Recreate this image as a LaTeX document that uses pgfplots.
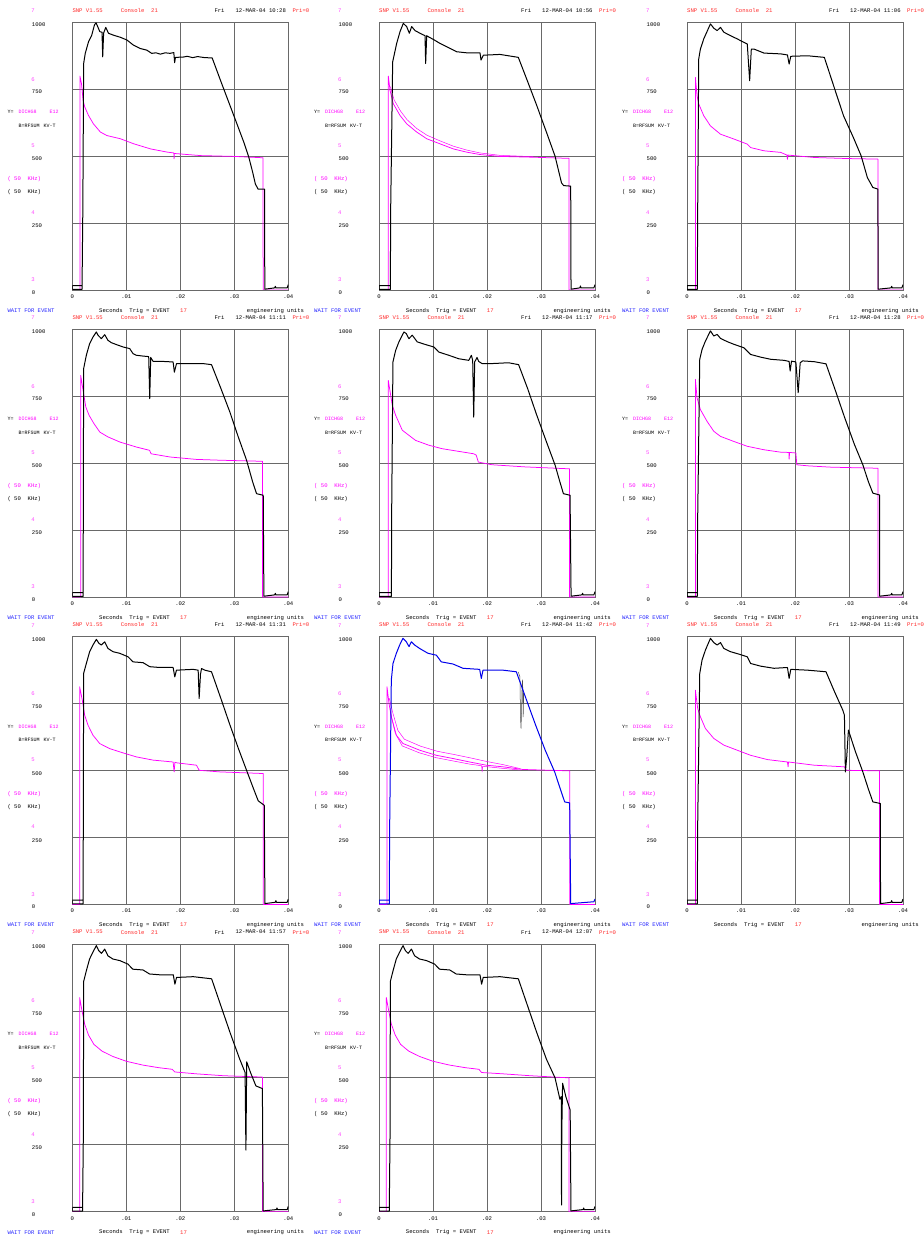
\documentclass[border=0pt]{standalone}
\usepackage{fontspec}
\setmonofont{Liberation Mono}
\usepackage{pgfplots}
\pgfplotsset{compat=1.18}
\definecolor{snpred}{RGB}{255,40,40}
\definecolor{mag}{RGB}{255,0,255}
\definecolor{pinkl}{RGB}{255,70,255}
\definecolor{waitblue}{RGB}{40,40,255}
\definecolor{gridgray}{RGB}{105,105,105}
\definecolor{plotblue}{RGB}{0,0,235}
\newcommand{\mono}{\ttfamily\fontsize{5.6}{6}\selectfont}
\newcommand{\monos}{\ttfamily\fontsize{5.0}{6}\selectfont}
\pgfplotsset{panel/.style={
 anchor=north west, scale only axis, width=216pt, height=267.7pt,
 xmin=0, xmax=0.04, ymin=0, ymax=1000, no markers,
 xtick={0,0.01,0.02,0.03,0.04}, xticklabels={0,.01,.02,.03,.04},
 ytick={0,250,500,750,1000}, yticklabels={0,250,500,750,1000},
 grid=major, major grid style={draw=gridgray, line width=0.8pt},
 axis line style={draw=gridgray, line width=0.8pt},
 major tick length=0pt, scaled x ticks=false,
 xticklabel style={font=\mono, inner sep=0pt, anchor=center, yshift=-6.7pt},
 yticklabel style={font=\mono, inner sep=0pt, anchor=west, xshift=-40.5pt, yshift=-2.7pt},
},
blk/.style={black, line width=1.0pt, line join=round},
mg/.style={mag, line width=0.75pt, line join=round},
gry/.style={black!70, line width=0.5pt},
}
\newcommand{\panellabels}[3]{%
\begin{scope}[shift={(#1pt,-#2pt)}, every node/.style={inner sep=0pt, font=\mono}]
\node[anchor=west, text=snpred] at (0pt,12pt) {SNP V1.55};
\node[anchor=west, text=snpred] at (48.4pt,12pt) {Console\ \ 21};
\node[anchor=west] at (142pt,12pt) {Fri};
\node[anchor=west] at (163pt,12pt) {12-MAR-04 #3};
\node[anchor=west, text=snpred] at (220pt,12pt) {Pri=0};
\node[text=pinkl] at (-39.3pt,11.3pt) {7};
\node[text=pinkl] at (-39.3pt,-57pt) {6};
\node[text=pinkl] at (-39.3pt,-123.4pt) {5};
\node[text=pinkl] at (-39.3pt,-190.4pt) {4};
\node[text=pinkl] at (-39.3pt,-257.7pt) {3};
\node[anchor=west,font=\monos] at (-65pt,-90pt) {Y=};
\node[anchor=west,font=\monos,text=mag] at (-54pt,-90pt) {DICHG8};
\node[anchor=west,font=\monos,text=mag] at (-23pt,-90pt) {E12};
\node[anchor=west,font=\monos] at (-54pt,-103.4pt) {B=RFSUM};
\node[anchor=west,font=\monos] at (-29pt,-103.4pt) {KV-T};
\node[anchor=west,text=mag] at (-65pt,-157pt) {(\ 50\ \ KHz)};
\node[anchor=west] at (-65pt,-170pt) {(\ 50\ \ KHz)};
\node[anchor=west,text=waitblue] at (-65pt,-288.4pt) {WAIT FOR EVENT};
\node[anchor=west] at (26.7pt,-288.4pt) {Seconds\ \ Trig = EVENT};
\node[anchor=west,text=snpred] at (107.7pt,-288.4pt) {17};
\node[anchor=west] at (174.4pt,-288.4pt) {engineering units};
\end{scope}}
\begin{document}
\begin{tikzpicture}
\useasboundingbox (0pt,0pt) rectangle (923pt,-1241pt);
% ---------------- Panel 1 ----------------
\panellabels{72.3}{22.3}{10:28}
\begin{axis}[panel, at={(72.3pt,-22.3pt)}]
\addplot[mg] coordinates {(0,0)(0.00142,0)(0.00142,799)(0.0017,771)(0.002,709)(0.0023,684)(0.0030,652)(0.0039,621)(0.0052,590)(0.0064,577)(0.0089,565)(0.0114,546)(0.0145,527)(0.0176,515)(0.0188,512)(0.01885,490)(0.0189,510)(0.0213,506)(0.0238,502)(0.030,499)(0.0353,494)(0.03535,0)(0.04,0)};
\addplot[blk] coordinates {(0.0018,16)(0,16)(0,2)(0.0018,2)(0.00195,300)(0.0021,846)(0.0024,884)(0.003,927)(0.0036,952)(0.0041,990)(0.0044,998)(0.0047,984)(0.0051,965)(0.0055,963)(0.00563,871)(0.0058,960)(0.0062,981)(0.0067,959)(0.0076,952)(0.0089,944)(0.0101,934)(0.0113,915)(0.0126,902)(0.0138,896)(0.0147,884)(0.0155,886)(0.0163,881)(0.0172,886)(0.0181,884)(0.0188,887)(0.01895,849)(0.0191,869)(0.0205,870)(0.0213,873)(0.0223,868)(0.0232,872)(0.0245,868)(0.0259,867)(0.0275,780)(0.0290,700)(0.0305,620)(0.0318,550)(0.0327,495)(0.0334,440)(0.0339,396)(0.0344,377)(0.0356,377)(0.03565,3)(0.0375,8)(0.0376,14)(0.0377,8)(0.0398,8)(0.04,20)};
\end{axis}
% ---------------- Panel 2 ----------------
\panellabels{379}{22.3}{10:56}
\begin{axis}[panel, at={(379pt,-22.3pt)}]
\addplot[mg] coordinates {(0,0)(0.00173,0)(0.00173,799)(0.00204,746)(0.00265,696)(0.00389,652)(0.00512,621)(0.00698,590)(0.00883,565)(0.0113,546)(0.01377,527)(0.01623,515)(0.0187,506)(0.0224,499)(0.02858,496)(0.03475,492)(0.0352,492)(0.0352,0)(0.04,0)};
\addplot[mg, line width=0.5pt] coordinates {(0.0021,760)(0.0028,710)(0.0040,668)(0.0052,636)(0.0070,603)(0.0089,578)(0.0113,557)(0.0138,537)(0.0162,523)(0.0187,512)(0.0224,503)(0.0286,498)};
\addplot[blk] coordinates {(0.0021,16)(0,16)(0,2)(0.0021,2)(0.00216,300)(0.00253,852)(0.00327,921)(0.00389,965)(0.0045,996)(0.00512,984)(0.00562,959)(0.00605,984)(0.00667,969)(0.0076,959)(0.00852,950)(0.00864,846)(0.00883,950)(0.00914,946)(0.01006,936)(0.0113,921)(0.01253,909)(0.01438,890)(0.01623,886)(0.0187,886)(0.01889,859)(0.01932,877)(0.0224,880)(0.0258,869)(0.0275,780)(0.0292,690)(0.0310,590)(0.0326,500)(0.0338,400)(0.0342,390)(0.0355,388)(0.03556,3)(0.0372,8)(0.0373,15)(0.0374,8)(0.0398,8)(0.04,20)};
\end{axis}
% ---------------- Panel 3 ----------------
\panellabels{687}{22.3}{11:06}
\begin{axis}[panel, at={(687pt,-22.3pt)}]
\addplot[mg] coordinates {(0,0)(0.00155,0)(0.00155,794)(0.00186,726)(0.00217,695)(0.0031,651)(0.00434,613)(0.0062,582)(0.00868,564)(0.01116,545)(0.01178,532)(0.01426,520)(0.01736,514)(0.0185,504)(0.0186,488)(0.0187,504)(0.02357,495)(0.02977,491)(0.03535,489)(0.03535,0)(0.04,0)};
\addplot[blk] coordinates {(0.0019,16)(0,16)(0,2)(0.0019,2)(0.00198,300)(0.00217,863)(0.00248,900)(0.0031,938)(0.00372,966)(0.00434,994)(0.00496,978)(0.00558,969)(0.0062,981)(0.00682,963)(0.00806,950)(0.0093,938)(0.01054,925)(0.01116,919)(0.0116,782)(0.01191,900)(0.0124,900)(0.01426,885)(0.01736,882)(0.0186,878)(0.01891,844)(0.01922,873)(0.02233,875)(0.02543,869)(0.0272,760)(0.0290,650)(0.0308,570)(0.03225,501)(0.0334,420)(0.03442,383)(0.03535,377)(0.0354,3)(0.0378,8)(0.0379,14)(0.038,8)(0.0398,8)(0.04,20)};
\end{axis}
% ---------------- Panel 4 ----------------
\panellabels{72.3}{329.3}{11:11}
\begin{axis}[panel, at={(72.3pt,-329.3pt)}]
\addplot[mg] coordinates {(0,0)(0.00155,0)(0.00155,828)(0.0022,747)(0.0025,710)(0.0031,679)(0.0040,648)(0.0051,616)(0.0066,598)(0.0088,579)(0.0119,560)(0.0143,548)(0.0146,535)(0.0181,523)(0.0230,514)(0.0273,511)(0.0351,507)(0.03524,507)(0.03524,0)(0.04,0)};
\addplot[blk] coordinates {(0.002,16)(0,16)(0,2)(0.002,2)(0.0021,853)(0.0026,903)(0.0032,946)(0.00383,971)(0.00445,990)(0.00476,978)(0.00538,965)(0.006,980)(0.0066,959)(0.00723,950)(0.00816,943)(0.0094,934)(0.01063,928)(0.01125,909)(0.01187,903)(0.0131,900)(0.01415,898)(0.01434,741)(0.01452,895)(0.01496,880)(0.0168,880)(0.01867,878)(0.0189,840)(0.0193,872)(0.02114,872)(0.0242,872)(0.02578,868)(0.0275,780)(0.02918,691)(0.0307,600)(0.03227,511)(0.0334,430)(0.03412,386)(0.03536,380)(0.03548,3)(0.0375,8)(0.0376,14)(0.0377,8)(0.0398,8)(0.04,20)};
\end{axis}
% ---------------- Panel 5 ----------------
\panellabels{379}{329.3}{11:17}
\begin{axis}[panel, at={(379pt,-329.3pt)}]
\addplot[mg] coordinates {(0,0)(0.00172,0)(0.00172,809)(0.00197,778)(0.00246,716)(0.00308,679)(0.00431,623)(0.00677,585)(0.00923,567)(0.01169,554)(0.01477,544)(0.01754,535)(0.0180,530)(0.0184,504)(0.02092,494)(0.02708,486)(0.03508,479)(0.03526,479)(0.03526,0)(0.04,0)};
\addplot[blk] coordinates {(0.0023,16)(0,16)(0,2)(0.0023,2)(0.00234,300)(0.00258,878)(0.00308,921)(0.00369,953)(0.00462,990)(0.00505,984)(0.00554,965)(0.00615,978)(0.00708,953)(0.00862,943)(0.01015,934)(0.01108,915)(0.01292,903)(0.01477,890)(0.01662,884)(0.01711,903)(0.01735,884)(0.01754,672)(0.01772,878)(0.01815,895)(0.01846,880)(0.01908,872)(0.02092,872)(0.024,875)(0.02585,868)(0.0275,780)(0.0292,680)(0.0310,580)(0.03262,492)(0.0335,430)(0.03415,386)(0.03538,380)(0.03557,3)(0.0376,8)(0.0377,14)(0.0378,8)(0.0398,8)(0.04,20)};
\end{axis}
% ---------------- Panel 6 ----------------
\panellabels{687}{329.3}{11:28}
\begin{axis}[panel, at={(687pt,-329.3pt)}]
\addplot[mg] coordinates {(0,0)(0.00155,0)(0.00155,813)(0.00186,744)(0.00248,700)(0.00372,656)(0.00496,619)(0.0062,600)(0.00868,581)(0.01116,563)(0.01426,550)(0.01736,541)(0.0189,540)(0.01891,515)(0.0190,540)(0.02016,538)(0.02034,494)(0.02233,490)(0.02667,485)(0.03535,481)(0.03535,0)(0.04,0)};
\addplot[blk] coordinates {(0.0019,16)(0,16)(0,2)(0.0019,2)(0.00198,300)(0.00236,888)(0.00279,925)(0.00341,956)(0.00434,994)(0.00496,975)(0.00558,981)(0.0062,966)(0.00744,954)(0.00868,944)(0.01054,931)(0.01178,906)(0.01364,896)(0.0155,888)(0.01798,884)(0.01891,880)(0.0191,844)(0.01935,881)(0.02016,878)(0.02059,763)(0.02096,875)(0.0214,882)(0.02357,879)(0.02574,871)(0.0275,770)(0.0292,670)(0.0310,570)(0.03256,494)(0.0336,430)(0.03442,388)(0.03566,381)(0.03568,3)(0.0378,8)(0.0379,14)(0.038,8)(0.0398,8)(0.04,20)};
\end{axis}
% ---------------- Panel 7 ----------------
\panellabels{72.3}{636.7}{11:31}
\begin{axis}[panel, at={(72.3pt,-636.7pt)}]
\addplot[mg] coordinates {(0,0)(0.00136,0)(0.00136,813)(0.00185,763)(0.00229,707)(0.0029,670)(0.00383,632)(0.00507,601)(0.00692,582)(0.0094,566)(0.01187,551)(0.01496,539)(0.01867,532)(0.01886,495)(0.0190,531)(0.01929,529)(0.0230,520)(0.02349,501)(0.02733,495)(0.03524,489)(0.03536,489)(0.03536,0)(0.04,0)};
\addplot[blk] coordinates {(0.002,16)(0,16)(0,2)(0.002,2)(0.0021,863)(0.0026,900)(0.00321,944)(0.00383,969)(0.00445,990)(0.00495,975)(0.00538,969)(0.006,981)(0.00662,956)(0.00754,944)(0.00878,938)(0.01032,925)(0.01125,906)(0.01311,903)(0.01434,888)(0.0162,885)(0.01867,885)(0.01898,850)(0.01929,875)(0.02238,878)(0.02331,875)(0.02349,769)(0.02374,860)(0.02393,881)(0.02454,875)(0.02578,869)(0.0275,770)(0.0292,670)(0.0308,580)(0.03227,501)(0.0336,430)(0.03443,387)(0.03555,370)(0.03567,3)(0.0376,8)(0.0377,14)(0.0378,8)(0.0398,8)(0.04,20)};
\end{axis}
% ---------------- Panel 8 ----------------
\panellabels{379}{636.7}{11:42}
\begin{axis}[panel, at={(379pt,-636.7pt)}]
\addplot[mg] coordinates {(0,0)(0.00148,0)(0.00148,813)(0.00185,751)(0.00228,701)(0.00321,632)(0.00444,601)(0.00753,576)(0.01062,557)(0.0137,545)(0.01679,532)(0.01988,520)(0.02296,514)(0.02667,504)(0.03519,499)(0.0353,499)(0.0353,0)(0.04,0)};
\addplot[mg, line width=0.5pt] coordinates {(0.0019,770)(0.0026,712)(0.0035,650)(0.0047,617)(0.0077,591)(0.0108,572)(0.0139,560)(0.0170,547)(0.0199,534)(0.0230,522)(0.0262,507)};
\addplot[mg, line width=0.5pt] coordinates {(0.0021,720)(0.0030,640)(0.0043,592)(0.0075,566)(0.0106,548)(0.0137,536)(0.0168,524)(0.0190,518)(0.0191,495)(0.0192,516)(0.0230,508)(0.0262,502)};
\addplot[gry] coordinates {(0.0258,868)(0.0261,850)(0.0262,700)(0.0263,657)(0.0264,720)(0.0265,820)(0.0266,840)(0.0267,700)(0.0268,790)};
\addplot[plotblue, line width=1.0pt, line join=round] coordinates {(0.0019,16)(0,16)(0,2)(0.0019,2)(0.00198,300)(0.00228,838)(0.00259,900)(0.00321,938)(0.00383,969)(0.00444,994)(0.00506,981)(0.00556,963)(0.00599,981)(0.0066,969)(0.00753,956)(0.00907,938)(0.01062,931)(0.01154,906)(0.0137,898)(0.01556,882)(0.01864,878)(0.01895,844)(0.01926,875)(0.02296,875)(0.02543,869)(0.0272,770)(0.0290,670)(0.0308,575)(0.03253,495)(0.0336,430)(0.03438,383)(0.03531,379)(0.0355,3)(0.0398,10)(0.04,20)};
\end{axis}
% ---------------- Panel 9 ----------------
\panellabels{687}{636.7}{11:49}
\begin{axis}[panel, at={(687pt,-636.7pt)}]
\addplot[mg] coordinates {(0,0)(0.00155,0)(0.00155,800)(0.00198,732)(0.00248,701)(0.00341,657)(0.00496,620)(0.00682,595)(0.0093,576)(0.01178,557)(0.01488,541)(0.0186,532)(0.01872,514)(0.0188,532)(0.02357,520)(0.02915,514)(0.02946,501)(0.03566,499)(0.03566,0)(0.04,0)};
\addplot[blk] coordinates {(0.0019,16)(0,16)(0,2)(0.0019,2)(0.00198,300)(0.00236,863)(0.00279,913)(0.00341,950)(0.00434,994)(0.00496,978)(0.00558,969)(0.0062,978)(0.00682,956)(0.00806,944)(0.00961,935)(0.01116,925)(0.01178,900)(0.01364,890)(0.01612,882)(0.0186,885)(0.01891,844)(0.01922,878)(0.02233,875)(0.02574,869)(0.0272,800)(0.02884,726)(0.02915,707)(0.02933,495)(0.02958,551)(0.02989,651)(0.0312,570)(0.03256,495)(0.0336,430)(0.03442,383)(0.0358,377)(0.03584,3)(0.0378,8)(0.0379,14)(0.038,8)(0.0398,8)(0.04,20)};
\end{axis}
% ---------------- Panel 10 ----------------
\panellabels{72.3}{944}{11:57}
\begin{axis}[panel, at={(72.3pt,-944pt)}]
\addplot[mg] coordinates {(0,0)(0.00136,0)(0.00136,800)(0.0018,750)(0.0023,700)(0.0030,660)(0.0040,625)(0.0055,600)(0.0075,580)(0.0100,562)(0.0130,548)(0.0160,538)(0.0185,532)(0.0190,522)(0.0230,515)(0.0280,508)(0.0352,503)(0.0352,0)(0.04,0)};
\addplot[blk] coordinates {(0.0019,16)(0,16)(0,2)(0.0019,2)(0.00205,300)(0.0021,860)(0.0026,900)(0.0032,944)(0.0038,969)(0.00445,994)(0.0049,975)(0.0054,965)(0.006,981)(0.0066,956)(0.0075,944)(0.0088,938)(0.0103,925)(0.0112,906)(0.0131,903)(0.0143,888)(0.0162,885)(0.0187,885)(0.019,850)(0.0193,875)(0.0224,878)(0.0258,870)(0.0275,770)(0.0292,670)(0.0310,570)(0.0320,520)(0.03215,230)(0.0323,560)(0.0330,520)(0.0340,470)(0.0352,460)(0.03535,3)(0.0378,8)(0.0379,14)(0.038,8)(0.0398,8)(0.04,20)};
\end{axis}
% ---------------- Panel 11 ----------------
\panellabels{379}{944}{12:07}
\begin{axis}[panel, at={(379pt,-944pt)}]
\addplot[mg] coordinates {(0,0)(0.00136,0)(0.00136,800)(0.0018,750)(0.0023,700)(0.0030,660)(0.0040,625)(0.0055,600)(0.0075,580)(0.0100,562)(0.0130,548)(0.0160,538)(0.0185,532)(0.0190,520)(0.0230,515)(0.0280,508)(0.0352,500)(0.0352,0)(0.04,0)};
\addplot[blk] coordinates {(0.0019,16)(0,16)(0,2)(0.0019,2)(0.00205,300)(0.0021,860)(0.0026,900)(0.0032,944)(0.0038,969)(0.00445,994)(0.0049,975)(0.0054,965)(0.006,981)(0.0066,956)(0.0075,944)(0.0088,938)(0.0103,925)(0.0112,906)(0.0131,903)(0.0143,888)(0.0162,885)(0.0187,885)(0.019,850)(0.0193,875)(0.0224,878)(0.0258,870)(0.0275,770)(0.0292,670)(0.0310,570)(0.0326,500)(0.0335,420)(0.03375,430)(0.0338,25)(0.03385,300)(0.0340,480)(0.0346,430)(0.0354,380)(0.03555,3)(0.0378,8)(0.0379,14)(0.038,8)(0.0398,8)(0.04,20)};
\end{axis}
\end{tikzpicture}
\end{document}
